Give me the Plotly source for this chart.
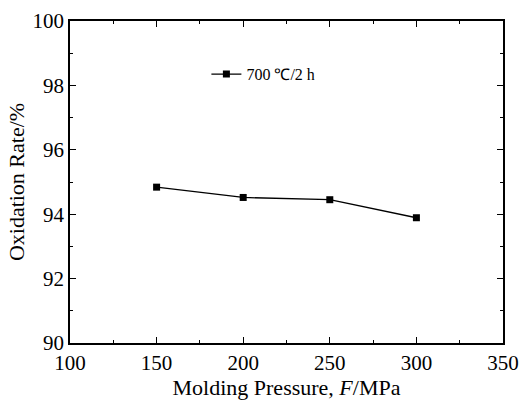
import plotly.graph_objects as go

pressure = [150, 200, 250, 300]
oxidation_rate = [94.84, 94.52, 94.45, 93.89]
series_name = "700 ℃/2 h"

font_family = "Liberation Serif, Times New Roman, serif"

fig = go.Figure()
fig.add_trace(go.Scatter(
    x=pressure, y=oxidation_rate, mode="lines+markers", name=series_name,
    line=dict(color="black", width=1.3),
    marker=dict(symbol="square", size=7, color="black"),
))

axis_common = dict(
    showgrid=False, zeroline=False, showline=True, linecolor="black", linewidth=1.5,
    mirror="allticks", ticks="inside", ticklen=6, tickwidth=1.2, tickcolor="black",
    tickfont=dict(family=font_family, size=21, color="black"), automargin=False,
)

fig.update_xaxes(
    range=[100, 350], tickvals=[100, 150, 200, 250, 300, 350],
    minor=dict(tickvals=[125, 175, 225, 275, 325], ticks="inside", ticklen=3, tickwidth=1.2, tickcolor="black"),
    title=dict(text="Molding Pressure, <i>F</i>/MPa", font=dict(family=font_family, size=22, color="black"), standoff=4),
    ticklabelstandoff=0,
    **axis_common,
)
fig.update_yaxes(
    range=[90, 100], tickvals=[90, 92, 94, 96, 98, 100],
    minor=dict(tickvals=[91, 93, 95, 97, 99], ticks="inside", ticklen=3, tickwidth=1.2, tickcolor="black"),
    title=dict(text="Oxidation Rate/%", font=dict(family=font_family, size=22, color="black"), standoff=2),
    **axis_common,
)

fig.update_layout(
    width=522, height=401,
    margin=dict(l=70, r=19, t=21, b=58),
    plot_bgcolor="white", paper_bgcolor="white",
    showlegend=True,
    legend=dict(x=0.315, y=0.835, xanchor="left", yanchor="middle",
                font=dict(family=font_family, size=16, color="black"),
                bgcolor="rgba(0,0,0,0)"),
)

fig.write_html("out.html")
